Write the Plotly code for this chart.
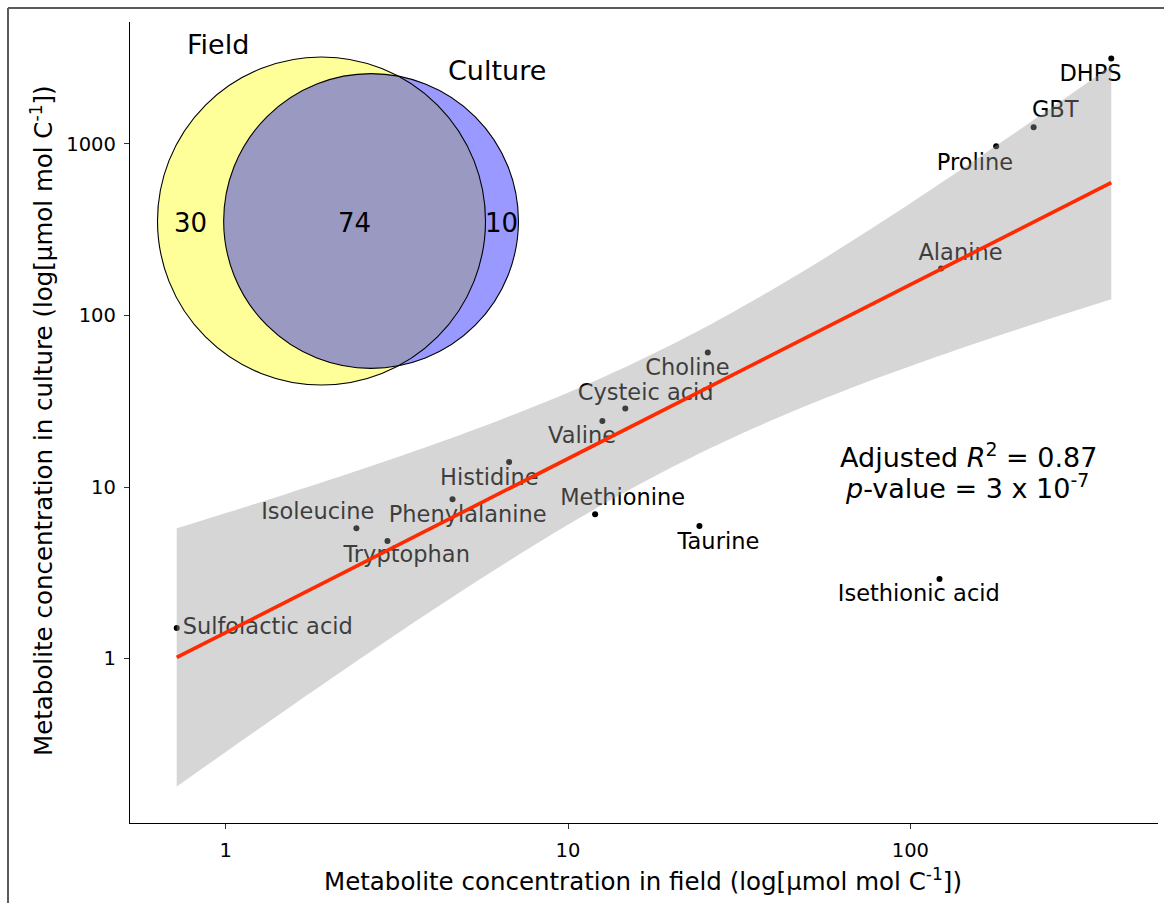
import math
import numpy as np
import plotly.graph_objects as go

# ---------------------------------------------------------------- data
metabolites = [
    "Sulfolactic acid", "Isoleucine", "Tryptophan", "Phenylalanine",
    "Histidine", "Valine", "Cysteic acid", "Methionine", "Taurine",
    "Isethionic acid", "Choline", "Alanine", "Proline", "GBT", "DHPS",
]
field_conc = [0.72, 2.41, 2.97, 4.60, 6.73, 12.6, 14.7, 12.0, 24.2,
              121.6, 25.6, 122.9, 178.0, 229.0, 386.0]
culture_conc = [1.51, 5.75, 4.85, 8.5, 14.0, 24.3, 28.7, 6.95, 5.93,
                2.91, 60.9, 188.0, 970.0, 1250.0, 3150.0]

venn_sets = ["Field", "Culture"]
venn_field_only = 30
venn_shared = 74
venn_culture_only = 10

x_ticks = [1, 10, 100]
y_ticks = [1, 10, 100, 1000]

r2_text = "Adjusted <i>R</i><sup>2</sup> = 0.87"
p_text = "<i>p</i>-value = 3 x 10<sup>-7</sup>"

# ---------------------------------------------------------------- layout constants
W, H = 1164, 903
PLOT_L, PLOT_R, PLOT_T, PLOT_B = 130, 1158, 22, 823
FONT = "DejaVu Sans"

# label placement (pixel offsets from each point: right, down)
label_offset = {
    "Sulfolactic acid": (91, 0), "Isoleucine": (-38.6, -15),
    "Tryptophan": (19.2, 15.7), "Phenylalanine": (15.2, 17),
    "Histidine": (-19.7, 17), "Valine": (-20.3, 16),
    "Cysteic acid": (20.4, -14), "Methionine": (27.6, -15),
    "Taurine": (19, 17), "Isethionic acid": (-20.7, 16.4),
    "Choline": (-20.4, 17), "Alanine": (19.4, -14.4),
    "Proline": (-21.2, 18), "GBT": (21.6, -15.6), "DHPS": (-20.8, 16.7),
}

# ---------------------------------------------------------------- regression (log-log OLS)
lx = np.log10(np.array(field_conc))
ly = np.log10(np.array(culture_conc))
n = len(lx)
slope, intercept = np.polyfit(lx, ly, 1)
resid = ly - (intercept + slope * lx)
s = math.sqrt(np.sum(resid ** 2) / (n - 2))
sxx = np.sum((lx - lx.mean()) ** 2)


def t_quantile(p, df):
    grid = np.linspace(0.0, 12.0, 240001)
    c = math.exp(math.lgamma((df + 1) / 2) - math.lgamma(df / 2)) / math.sqrt(df * math.pi)
    pdf = c * (1 + grid ** 2 / df) ** (-(df + 1) / 2)
    cdf = 0.5 + np.concatenate([[0.0], np.cumsum((pdf[1:] + pdf[:-1]) / 2 * np.diff(grid))])
    return float(np.interp(p, cdf, grid))


tcrit = t_quantile(0.975, n - 2)
gx = np.linspace(lx.min(), lx.max(), 80)
gy = intercept + slope * gx
half = tcrit * s * np.sqrt(1 / n + (gx - lx.mean()) ** 2 / sxx)
lo, hi = gy - half, gy + half

# axis ranges with 5% expansion (log units)
xr = [lx.min(), lx.max()]
xpad = 0.05 * (xr[1] - xr[0])
x_range = [xr[0] - xpad, xr[1] + xpad]
yr = [min(ly.min(), lo.min()), max(ly.max(), hi.max())]
ypad = 0.05 * (yr[1] - yr[0])
y_range = [yr[0] - ypad, yr[1] + ypad]

px_per_dec_x = (PLOT_R - PLOT_L) / (x_range[1] - x_range[0])
px_per_dec_y = (PLOT_B - PLOT_T) / (y_range[1] - y_range[0])

lab_x = [xv * 10 ** (label_offset[m][0] / px_per_dec_x) for m, xv in zip(metabolites, field_conc)]
lab_y = [yv * 10 ** (-label_offset[m][1] / px_per_dec_y) for m, yv in zip(metabolites, culture_conc)]


def px_x(px):
    return (px - PLOT_L) / (PLOT_R - PLOT_L)


def px_y(py):
    return (PLOT_B - py) / (PLOT_B - PLOT_T)


fig = go.Figure()

fig.add_trace(go.Scatter(
    x=field_conc, y=culture_conc, mode="markers",
    marker=dict(color="black", size=6), hoverinfo="skip", showlegend=False))

fig.add_trace(go.Scatter(
    x=lab_x, y=lab_y, mode="text", text=metabolites,
    textposition="middle center",
    textfont=dict(family=FONT, size=22.5, color="black"),
    hoverinfo="skip", showlegend=False))

# confidence band drawn over the labels
fig.add_trace(go.Scatter(
    x=np.concatenate([10 ** gx, (10 ** gx)[::-1]]),
    y=np.concatenate([10 ** hi, (10 ** lo)[::-1]]),
    fill="toself", fillcolor="rgba(153,153,153,0.4)", mode="none",
    hoverinfo="skip", showlegend=False))

fig.add_trace(go.Scatter(
    x=10 ** gx, y=10 ** gy, mode="lines",
    line=dict(color="#ff2a00", width=3.6), hoverinfo="skip", showlegend=False))

# ---------------------------------------------------------------- Venn inset
field_total = venn_field_only + venn_shared
culture_total = venn_culture_only + venn_shared
r_f = 164.0
r_c = r_f * math.sqrt(culture_total / field_total)
target = venn_shared / field_total * math.pi * r_f ** 2


def lens(d, r1, r2):
    a1 = r1 ** 2 * math.acos((d * d + r1 * r1 - r2 * r2) / (2 * d * r1))
    a2 = r2 ** 2 * math.acos((d * d + r2 * r2 - r1 * r1) / (2 * d * r2))
    k = 0.5 * math.sqrt((-d + r1 + r2) * (d + r1 - r2) * (d - r1 + r2) * (d + r1 + r2))
    return a1 + a2 - k


d_lo, d_hi = r_f - r_c + 1e-6, r_f + r_c - 1e-6
for _ in range(100):
    mid = (d_lo + d_hi) / 2
    if lens(mid, r_f, r_c) > target:
        d_lo = mid
    else:
        d_hi = mid
d = (d_lo + d_hi) / 2

cfx, cfy = 321.5, 221.0
ccx, ccy = cfx + d, cfy

shapes = []
for (cx, cy, r, col) in [(cfx, cfy, r_f, "rgba(255,255,0,0.4)"),
                         (ccx, ccy, r_c, "rgba(0,0,255,0.4)")]:
    shapes.append(dict(type="circle", xref="paper", yref="paper",
                       x0=px_x(cx - r), x1=px_x(cx + r),
                       y0=px_y(cy + r), y1=px_y(cy - r),
                       fillcolor=col, line=dict(width=0), layer="above"))
for (cx, cy, r) in [(cfx, cfy, r_f), (ccx, ccy, r_c)]:
    shapes.append(dict(type="circle", xref="paper", yref="paper",
                       x0=px_x(cx - r), x1=px_x(cx + r),
                       y0=px_y(cy + r), y1=px_y(cy - r),
                       fillcolor="rgba(0,0,0,0)", line=dict(color="black", width=1.1),
                       layer="above"))

# outer frame (left and top edges)
shapes.append(dict(type="line", xref="paper", yref="paper",
                   x0=px_x(8), x1=px_x(8), y0=px_y(8), y1=px_y(H + 2),
                   line=dict(color="#5a5a5a", width=2)))
shapes.append(dict(type="line", xref="paper", yref="paper",
                   x0=px_x(8), x1=px_x(W + 2), y0=px_y(8), y1=px_y(8),
                   line=dict(color="#5a5a5a", width=2)))

annotations = []


def add_text(txt, px, py, size, angle=0):
    annotations.append(dict(text=txt, xref="paper", yref="paper",
                            x=px_x(px), y=px_y(py), xanchor="center", yanchor="middle",
                            showarrow=False, textangle=angle,
                            font=dict(family=FONT, size=size, color="black")))


# region counts centred in each region along the centre line
num_y = cfy + 2
add_text(str(venn_field_only), ((cfx - r_f) + (ccx - r_c)) / 2, num_y, 26)
add_text(str(venn_shared), ((ccx - r_c) + (cfx + r_f)) / 2, num_y, 26)
add_text(str(venn_culture_only), ((cfx + r_f) + (ccx + r_c)) / 2, num_y, 26)
add_text(venn_sets[0], 218, 45, 27)
add_text(venn_sets[1], 497, 70, 27)

# fit statistics
add_text(r2_text, 968, 455, 27)
add_text(p_text, 967, 486, 27)

# axis titles
add_text("Metabolite concentration in field (log[µmol mol C<sup>-1</sup>])", 643, 880, 24.5)
add_text("Metabolite concentration in culture (log[µmol mol C<sup>-1</sup>])", 42, 421, 24.5, -90)

axis_common = dict(
    type="log", showgrid=False, zeroline=False, showline=True,
    linecolor="black", linewidth=1.4, ticks="outside", ticklen=5,
    tickcolor="#333333", tickwidth=1.2, ticklabelstandoff=4,
    tickfont=dict(family=FONT, size=19.5, color="black"))

fig.update_layout(
    width=W, height=H, autosize=False,
    margin=dict(l=PLOT_L, r=W - PLOT_R, t=PLOT_T, b=H - PLOT_B, pad=0),
    paper_bgcolor="white", plot_bgcolor="white",
    xaxis=dict(range=x_range, tickvals=x_ticks, ticktext=[str(v) for v in x_ticks], **axis_common),
    yaxis=dict(range=y_range, tickvals=y_ticks, ticktext=[str(v) for v in y_ticks], **axis_common),
    shapes=shapes, annotations=annotations, showlegend=False,
)

fig.write_html("out.html")
